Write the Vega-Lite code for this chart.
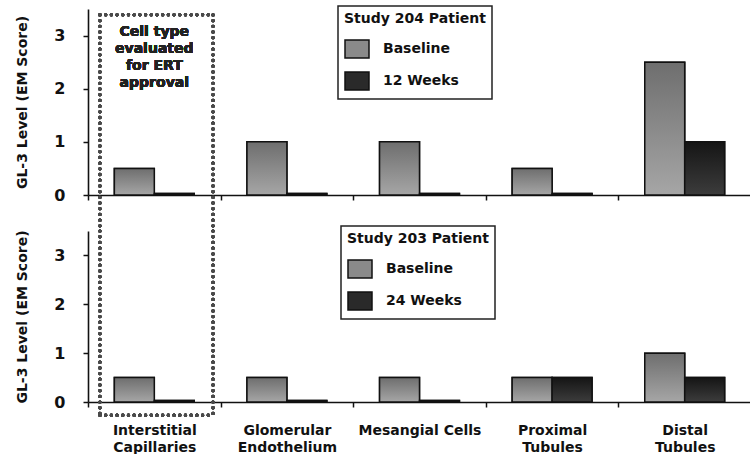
{
  "$schema": "https://vega.github.io/schema/vega-lite/v6.json",
  "padding": {"left": 15, "top": 5, "right": 0, "bottom": 0},
  "background": "white",
  "bounds": "flush",
  "spacing": 36,
  "config": {
    "font": "DejaVu Sans",
    "view": {"stroke": null},
    "axis": {
      "domainColor": "#111", "domainWidth": 1.6, "tickColor": "#111", "tickWidth": 1.5, "tickSize": 5,
      "labelColor": "#111", "labelFont": "DejaVu Sans", "labelFontWeight": "bold",
      "titleFont": "DejaVu Sans", "titleFontWeight": "bold", "titleColor": "#111", "grid": false
    },
    "legend": {
      "symbolType": "M-1,-0.75H1V0.75H-1Z", "symbolSize": 576, "symbolStrokeColor": "#111", "symbolStrokeWidth": 1.5,
      "labelFont": "DejaVu Sans", "labelFontSize": 14, "labelFontWeight": "bold", "labelColor": "#111",
      "titleFont": "DejaVu Sans", "titleFontSize": 14, "titleFontWeight": "bold", "titleColor": "#111",
      "strokeColor": "#222", "strokeWidth": 1.5, "fillColor": "white", "padding": 6, "rowPadding": 7,
      "titlePadding": 10, "labelOffset": 13, "titleLimit": 400, "symbolOpacity": 1
    }
  },
  "resolve": {"scale": {"fill": "independent", "y": "independent", "xOffset": "independent"}, "legend": {"fill": "independent"}},
  "vconcat": [
    {
      "width": 663, "height": 186,
      "data": {"values": [
        {"cell": "Interstitial Capillaries", "time": "Baseline", "level": 0.5},
        {"cell": "Interstitial Capillaries", "time": "12 Weeks", "level": 0.03},
        {"cell": "Glomerular Endothelium", "time": "Baseline", "level": 1.0},
        {"cell": "Glomerular Endothelium", "time": "12 Weeks", "level": 0.03},
        {"cell": "Mesangial Cells", "time": "Baseline", "level": 1.0},
        {"cell": "Mesangial Cells", "time": "12 Weeks", "level": 0.03},
        {"cell": "Proximal Tubules", "time": "Baseline", "level": 0.5},
        {"cell": "Proximal Tubules", "time": "12 Weeks", "level": 0.03},
        {"cell": "Distal Tubules", "time": "Baseline", "level": 2.5},
        {"cell": "Distal Tubules", "time": "12 Weeks", "level": 1.0}
      ]},
      "layer": [
        {
          "mark": {"type": "bar", "stroke": "#111", "strokeWidth": 1.5},
          "encoding": {
            "x": {"field": "cell", "type": "nominal", "sort": null,
              "scale": {"domain": ["Interstitial Capillaries", "Glomerular Endothelium", "Mesangial Cells", "Proximal Tubules", "Distal Tubules"], "paddingInner": 0, "paddingOuter": 0},
              "axis": {"title": null, "labels": false, "ticks": true, "tickBand": "extent"}},
            "xOffset": {"field": "time", "type": "nominal", "scale": {"domain": ["Baseline", "12 Weeks"], "paddingInner": 0, "paddingOuter": 0.66}},
            "y": {"field": "level", "type": "quantitative", "scale": {"domain": [0, 3.5], "nice": false},
              "axis": {"values": [0, 1, 2, 3], "format": "d", "title": "GL-3 Level (EM Score)", "labelFontSize": 16, "labelPadding": 18, "titlePadding": 24, "titleFontSize": 14}},
            "fill": {"field": "time", "type": "nominal",
              "scale": {"domain": ["Baseline", "12 Weeks"], "range": ["#8a8a8a", "#2a2a2a"]},
              "legend": {"title": "Study 204 Patient", "orient": "none", "legendX": 250, "legendY": -3}}
          }
        },
        {
          "transform": [{"filter": "datum.time == 'Baseline'"}],
          "mark": {"type": "bar", "stroke": "#111", "strokeWidth": 1.5,
            "fill": {"gradient": "linear", "x1": 0, "y1": 0, "x2": 0, "y2": 1, "stops": [{"offset": 0, "color": "#6e6e6e"}, {"offset": 1, "color": "#a6a6a6"}]}},
          "encoding": {
            "x": {"field": "cell", "type": "nominal", "sort": null},
            "xOffset": {"field": "time", "type": "nominal"},
            "y": {"field": "level", "type": "quantitative"}
          }
        },
        {
          "transform": [{"filter": "datum.time != 'Baseline'"}],
          "mark": {"type": "bar", "stroke": "#111", "strokeWidth": 1.5,
            "fill": {"gradient": "linear", "x1": 0, "y1": 0, "x2": 0, "y2": 1, "stops": [{"offset": 0, "color": "#151515"}, {"offset": 1, "color": "#3c3c3c"}]}},
          "encoding": {
            "x": {"field": "cell", "type": "nominal", "sort": null},
            "xOffset": {"field": "time", "type": "nominal"},
            "y": {"field": "level", "type": "quantitative"}
          }
        },
        {
          "mark": {"type": "rule", "strokeDash": [0.1, 5.6], "strokeCap": "round", "strokeWidth": 3.2, "color": "#4a4a4a"},
          "encoding": {"x": {"datum": "Interstitial Capillaries", "bandPosition": 0.09}, "y": {"datum": 3.39}, "y2": {"datum": -0.68}}
        },
        {
          "mark": {"type": "rule", "strokeDash": [0.1, 5.6], "strokeCap": "round", "strokeWidth": 3.2, "color": "#4a4a4a"},
          "encoding": {"x": {"datum": "Interstitial Capillaries", "bandPosition": 0.943}, "y": {"datum": 3.39}, "y2": {"datum": -0.68}}
        },
        {
          "mark": {"type": "rule", "strokeDash": [0.1, 5.6], "strokeCap": "round", "strokeWidth": 3.2, "color": "#4a4a4a"},
          "encoding": {"x": {"datum": "Interstitial Capillaries", "bandPosition": 0.09}, "x2": {"datum": "Interstitial Capillaries", "bandPosition": 0.943}, "y": {"datum": 3.39}}
        },
        {
          "mark": {"type": "text", "text": ["Cell type", "evaluated", "for ERT", "approval"], "font": "DejaVu Sans", "fontSize": 14, "fontWeight": "bold", "fill": "#222", "strokeWidth": 0, "align": "center", "baseline": "top", "lineHeight": 17},
          "encoding": {"x": {"datum": "Interstitial Capillaries", "bandPosition": 0.5}, "y": {"datum": 3.19}}
        }
      ]
    },
    {
      "width": 663, "height": 171,
      "data": {"values": [
        {"cell": "Interstitial Capillaries", "time": "Baseline", "level": 0.5},
        {"cell": "Interstitial Capillaries", "time": "24 Weeks", "level": 0.03},
        {"cell": "Glomerular Endothelium", "time": "Baseline", "level": 0.5},
        {"cell": "Glomerular Endothelium", "time": "24 Weeks", "level": 0.03},
        {"cell": "Mesangial Cells", "time": "Baseline", "level": 0.5},
        {"cell": "Mesangial Cells", "time": "24 Weeks", "level": 0.03},
        {"cell": "Proximal Tubules", "time": "Baseline", "level": 0.5},
        {"cell": "Proximal Tubules", "time": "24 Weeks", "level": 0.5},
        {"cell": "Distal Tubules", "time": "Baseline", "level": 1.0},
        {"cell": "Distal Tubules", "time": "24 Weeks", "level": 0.5}
      ]},
      "layer": [
        {
          "mark": {"type": "bar", "stroke": "#111", "strokeWidth": 1.5},
          "encoding": {
            "x": {"field": "cell", "type": "nominal", "sort": null,
              "scale": {"domain": ["Interstitial Capillaries", "Glomerular Endothelium", "Mesangial Cells", "Proximal Tubules", "Distal Tubules"], "paddingInner": 0, "paddingOuter": 0},
              "axis": {"title": null, "labels": true, "ticks": true, "tickBand": "extent", "labelAngle": 0, "labelFontSize": 14, "labelPadding": 16, "labelLineHeight": 17, "labelBaseline": "top",
                "labelExpr": "datum.label == 'Mesangial Cells' ? datum.label : split(datum.label, ' ')"}},
            "xOffset": {"field": "time", "type": "nominal", "scale": {"domain": ["Baseline", "24 Weeks"], "paddingInner": 0, "paddingOuter": 0.66}},
            "y": {"field": "level", "type": "quantitative", "scale": {"domain": [0, 3.5], "nice": false},
              "axis": {"values": [0, 1, 2, 3], "format": "d", "title": "GL-3 Level (EM Score)", "labelFontSize": 16, "labelPadding": 18, "titlePadding": 24, "titleFontSize": 14}},
            "fill": {"field": "time", "type": "nominal",
              "scale": {"domain": ["Baseline", "24 Weeks"], "range": ["#8a8a8a", "#2a2a2a"]},
              "legend": {"title": "Study 203 Patient", "orient": "none", "legendX": 253, "legendY": -5}}
          }
        },
        {
          "transform": [{"filter": "datum.time == 'Baseline'"}],
          "mark": {"type": "bar", "stroke": "#111", "strokeWidth": 1.5,
            "fill": {"gradient": "linear", "x1": 0, "y1": 0, "x2": 0, "y2": 1, "stops": [{"offset": 0, "color": "#6e6e6e"}, {"offset": 1, "color": "#a6a6a6"}]}},
          "encoding": {
            "x": {"field": "cell", "type": "nominal", "sort": null},
            "xOffset": {"field": "time", "type": "nominal"},
            "y": {"field": "level", "type": "quantitative"}
          }
        },
        {
          "transform": [{"filter": "datum.time != 'Baseline'"}],
          "mark": {"type": "bar", "stroke": "#111", "strokeWidth": 1.5,
            "fill": {"gradient": "linear", "x1": 0, "y1": 0, "x2": 0, "y2": 1, "stops": [{"offset": 0, "color": "#151515"}, {"offset": 1, "color": "#3c3c3c"}]}},
          "encoding": {
            "x": {"field": "cell", "type": "nominal", "sort": null},
            "xOffset": {"field": "time", "type": "nominal"},
            "y": {"field": "level", "type": "quantitative"}
          }
        },
        {
          "mark": {"type": "rule", "strokeDash": [0.1, 5.6], "strokeCap": "round", "strokeWidth": 3.2, "color": "#4a4a4a"},
          "encoding": {"x": {"datum": "Interstitial Capillaries", "bandPosition": 0.09}, "y": {"datum": 3.5}, "y2": {"datum": -0.27}}
        },
        {
          "mark": {"type": "rule", "strokeDash": [0.1, 5.6], "strokeCap": "round", "strokeWidth": 3.2, "color": "#4a4a4a"},
          "encoding": {"x": {"datum": "Interstitial Capillaries", "bandPosition": 0.943}, "y": {"datum": 3.5}, "y2": {"datum": -0.27}}
        },
        {
          "mark": {"type": "rule", "strokeDash": [0.1, 5.6], "strokeCap": "round", "strokeWidth": 3.2, "color": "#4a4a4a"},
          "encoding": {"x": {"datum": "Interstitial Capillaries", "bandPosition": 0.09}, "x2": {"datum": "Interstitial Capillaries", "bandPosition": 0.943}, "y": {"datum": -0.27}}
        }
      ]
    }
  ]
}
